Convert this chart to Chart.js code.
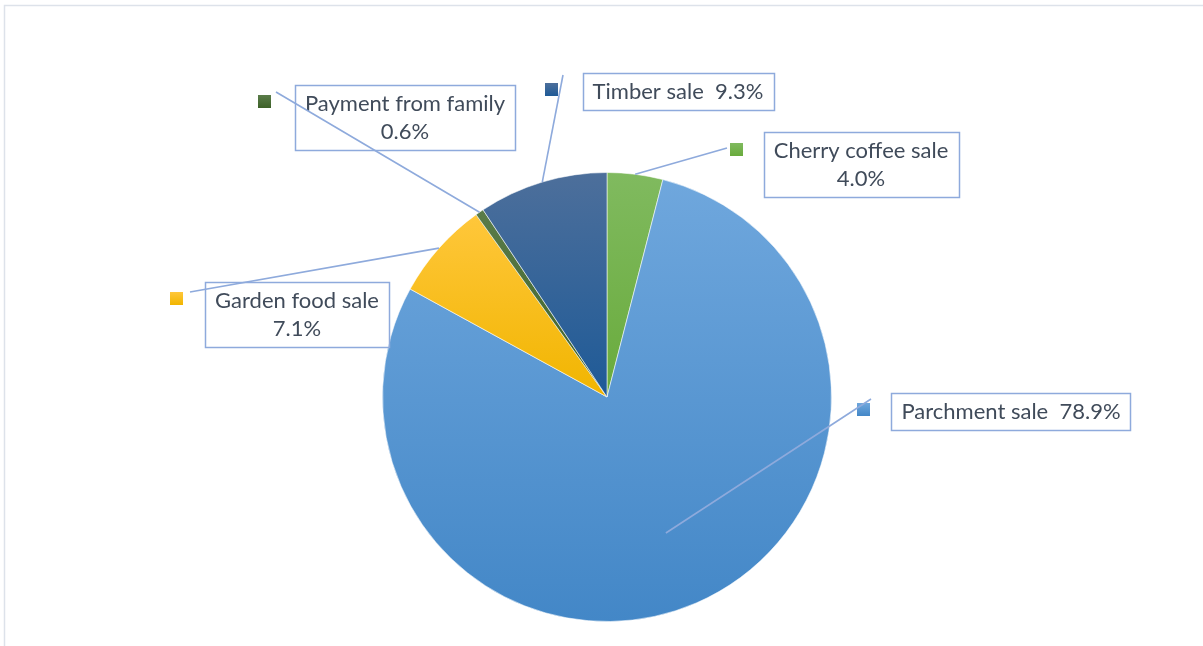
<!DOCTYPE html>
<html>
<head>
<meta charset="utf-8">
<script src="https://cdn.jsdelivr.net/npm/chart.js@4/dist/chart.umd.min.js"></script>
<style>
  html, body { margin: 0; padding: 0; background: #fff; }
  #wrap { width: 1203px; height: 646px; position: relative; }
</style>
</head>
<body>
<div id="wrap"><canvas id="incomeChart" width="1203" height="646"></canvas></div>
<script>
// income sources, share of total (%), clockwise from 12 o'clock
const sources = ['Cherry coffee sale', 'Parchment sale', 'Garden food sale', 'Payment from family', 'Timber sale'];
const shares = [4.0, 78.9, 7.1, 0.6, 9.3];

// gradient stops per slice (top -> bottom)
const topColors = ['#80ba5f', '#6fa7dd', '#ffc73b', '#5a7c49', '#4d6f9b'];
const bottomColors = ['#69ab3c', '#4387c7', '#f1b500', '#3d6128', '#1e5a97'];

// label boxes: centre, one or two lines, legend key, end of leader line
const labelBoxes = [
  { cx: 861, cy: 164, split: true,  key: [730, 143], tip: [727, 148] },
  { cx: 1011, cy: 411, split: false, key: [857, 403], tip: [871, 399] },
  { cx: 297, cy: 314, split: true,  key: [170, 292], tip: [190, 292] },
  { cx: 405, cy: 117, split: true,  key: [258, 95],  tip: [276, 92] },
  { cx: 678, cy: 91,  split: false, key: [545, 83],  tip: [563, 75] }
];
const leaderDepth = [1, 0.66, 1, 1, 1];

const FONT = '22px Lato, "Open Sans", sans-serif';
const TEXT = '#404b5a';
const EDGE = '#8eaadc';

function sliceGradient(ctx2d, i, area) {
  const cx = (area.left + area.right) / 2, cy = (area.top + area.bottom) / 2;
  const r = Math.min(area.right - area.left, area.bottom - area.top) / 2;
  const total = shares.reduce((a, b) => a + b, 0);
  let start = shares.slice(0, i).reduce((a, b) => a + b, 0) / total * Math.PI * 2 - Math.PI / 2;
  let end = start + shares[i] / total * Math.PI * 2;
  let y0 = cy, y1 = cy;
  for (let k = 0; k <= 60; k++) {
    const y = cy + Math.sin(start + (end - start) * k / 60) * r;
    y0 = Math.min(y0, y); y1 = Math.max(y1, y);
  }
  if (y1 - y0 < 1) y1 = y0 + 1;
  const g = ctx2d.createLinearGradient(0, y0, 0, y1);
  g.addColorStop(0, topColors[i]);
  g.addColorStop(1, bottomColors[i]);
  return g;
}

const frame = {
  id: 'frame',
  beforeDraw(chart) {
    const c = chart.ctx;
    c.save();
    c.strokeStyle = '#dde2ea';
    c.lineWidth = 1.5;
    c.beginPath();
    c.moveTo(4.5, 646); c.lineTo(4.5, 5.5); c.lineTo(1203, 5.5);
    c.stroke();
    c.restore();
  }
};

const calloutLabels = {
  id: 'calloutLabels',
  afterDraw(chart) {
    const c = chart.ctx;
    const arcs = chart.getDatasetMeta(0).data;
    c.save();
    c.font = FONT;
    c.textAlign = 'center';
    c.textBaseline = 'middle';
    arcs.forEach((arc, i) => {
      const b = labelBoxes[i];
      const pct = shares[i].toFixed(1) + '%';
      const lines = b.split ? [sources[i], pct] : [sources[i] + '  ' + pct];
      const w = Math.max(...lines.map(t => c.measureText(t).width)) + 20;
      const lh = 28;
      const h = lines.length * lh + 9;

      // box
      c.strokeStyle = EDGE;
      c.lineWidth = 1.5;
      c.strokeRect(Math.round(b.cx - w / 2) + 0.5, Math.round(b.cy - h / 2) + 0.5, Math.round(w), Math.round(h));
      c.fillStyle = TEXT;
      lines.forEach((t, k) => {
        c.fillText(t, b.cx, b.cy + (k - (lines.length - 1) / 2) * lh + 1);
      });

      // legend key
      const kg = c.createLinearGradient(0, b.key[1], 0, b.key[1] + 13);
      kg.addColorStop(0, topColors[i]);
      kg.addColorStop(1, bottomColors[i]);
      c.fillStyle = kg;
      c.fillRect(b.key[0], b.key[1], 13, 13);

      // leader line from the slice
      const p = arc.getProps(['x', 'y', 'startAngle', 'endAngle', 'outerRadius'], true);
      const mid = (p.startAngle + p.endAngle) / 2;
      const r = p.outerRadius * leaderDepth[i];
      c.strokeStyle = EDGE;
      c.lineWidth = 1.6;
      c.beginPath();
      c.moveTo(p.x + Math.cos(mid) * r, p.y + Math.sin(mid) * r);
      c.lineTo(b.tip[0], b.tip[1]);
      c.stroke();
    });
    c.restore();
  }
};

new Chart(document.getElementById('incomeChart'), {
  type: 'pie',
  data: {
    labels: sources,
    datasets: [{
      data: shares,
      backgroundColor: (ctx) => {
        const area = ctx.chart.chartArea;
        if (!area) return topColors[ctx.dataIndex];
        return sliceGradient(ctx.chart.ctx, ctx.dataIndex, area);
      },
      borderColor: 'rgba(255,255,255,0.55)',
      borderWidth: 1
    }]
  },
  options: {
    responsive: false,
    animation: false,
    layout: { padding: { left: 382, right: 371, top: 172, bottom: 24 } },
    plugins: { legend: { display: false }, tooltip: { enabled: false } }
  },
  plugins: [frame, calloutLabels]
});
</script>
</body>
</html>
